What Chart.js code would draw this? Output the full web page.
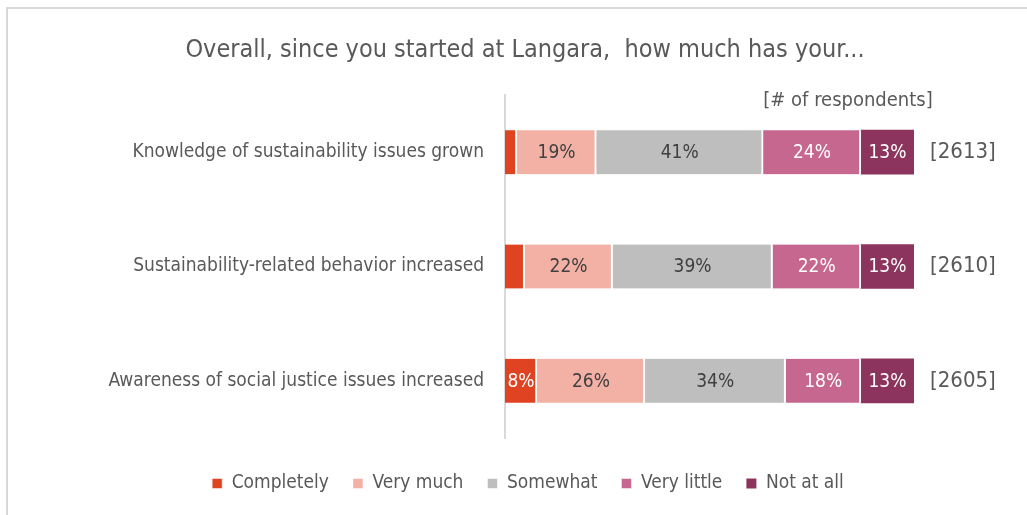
<!DOCTYPE html>
<html>
<head>
<meta charset="utf-8">
<script src="https://cdn.jsdelivr.net/npm/chart.js@4"></script>
<style>
  html, body { margin: 0; padding: 0; background: #ffffff; }
  #wrap { width: 1027px; height: 515px; position: relative; }
</style>
</head>
<body>
<div id="wrap"><canvas id="my-bar-Chart"></canvas></div>
<script>
// data (percent of respondents)
const categories = [
  "Knowledge of sustainability issues grown",
  "Sustainability-related behavior increased",
  "Awareness of social justice issues increased",
];
const completely = [2.9, 4.8, 7.8];
const veryMuch = [19.4, 21.5, 26.4];
const somewhat = [40.8, 39.1, 34.4];
const veryLittle = [23.9, 21.6, 18.4];
const notAtAll = [13.0, 13.0, 13.0];
const respondents = ["[2613]", "[2610]", "[2605]"];
const seriesNames = ["Completely", "Very much", "Somewhat", "Very little", "Not at all"];
const seriesColors = ["#E04321", "#F3B1A6", "#BEBEBE", "#C6678F", "#8C345E"];
const labelColors = ["#ffffff", "#404040", "#404040", "#ffffff", "#ffffff"];

const FONT = '"Liberation Sans Narrow", "DejaVu Sans Condensed", "Roboto Condensed", sans-serif';
const GREY = "#595959";

// frame, title and the little header above the counts
const decorPlugin = {
  id: "decor",
  beforeDraw(chart) {
    const ctx = chart.ctx;
    ctx.save();
    ctx.strokeStyle = "#d9d9d9";
    ctx.lineWidth = 2;
    ctx.strokeRect(7, 8, 1100, 600);
    ctx.fillStyle = GREY;
    ctx.textBaseline = "middle";
    ctx.textAlign = "center";
    ctx.font = "25px " + FONT;
    ctx.fillText("Overall, since you started at Langara,  how much has your...", 525, 50);
    ctx.font = "20px " + FONT;
    ctx.fillText("[# of respondents]", 848, 101);
    ctx.restore();
  },
  afterDatasetsDraw(chart) {
    const ctx = chart.ctx;
    ctx.save();
    ctx.textBaseline = "middle";
    ctx.textAlign = "center";
    ctx.font = "19px " + FONT;
    chart.data.datasets.forEach((ds, i) => {
      const meta = chart.getDatasetMeta(i);
      meta.data.forEach((bar, j) => {
        const v = ds.data[j];
        const w = Math.abs(bar.x - bar.base);
        if (w < 25) return;
        ctx.fillStyle = labelColors[i];
        ctx.fillText(Math.round(v) + "%", (bar.x + bar.base) / 2, bar.y + 1);
      });
    });
    ctx.restore();
  },
};

const seriesData = [completely, veryMuch, somewhat, veryLittle, notAtAll];

let ctx = document.querySelector("#my-bar-Chart");
let myBarChart = new Chart(ctx, {
  type: "bar",
  data: {
    labels: categories,
    datasets: seriesNames.map((name, i) => ({
      label: name,
      data: seriesData[i],
      backgroundColor: seriesColors[i],
      borderColor: "#ffffff",
      borderWidth: { left: 0, top: 0, bottom: 0, right: i < 4 ? 2 : 0 },
      borderSkipped: false,
      barThickness: 44,
    })),
  },
  options: {
    indexAxis: "y",
    responsive: true,
    maintainAspectRatio: false,
    animation: false,
    layout: {
      padding: { top: 95, right: 0, left: 29, bottom: 12 },
    },
    scales: {
      // value axis kept invisible, it only holds a gap above the legend
      x: {
        display: true,
        stacked: true,
        min: 0,
        max: 100,
        grid: { display: false },
        border: { display: false },
        ticks: { display: false },
        afterFit(scale) {
          scale.height = 12;
        },
      },
      y: {
        stacked: true,
        grid: { display: false },
        border: { display: true, color: "#d9d9d9", width: 2 },
        ticks: {
          color: GREY,
          padding: 13,
          font: { family: FONT, size: 19 },
        },
        afterFit(scale) {
          scale.width = 476;
        },
      },
      // respondent counts, one per bar, on the right
      y2: {
        type: "category",
        labels: respondents,
        position: "right",
        offset: true,
        grid: { display: false },
        border: { display: false },
        ticks: {
          color: GREY,
          padding: 8,
          font: { family: FONT, size: 22 },
        },
        afterFit(scale) {
          scale.width = 113;
        },
      },
    },
    plugins: {
      legend: {
        display: true,
        position: "bottom",
        labels: {
          color: GREY,
          boxWidth: 10,
          boxHeight: 10,
          padding: 24,
          font: { family: FONT, size: 19 },
        },
      },
      tooltip: { enabled: false },
    },
  },
  plugins: [decorPlugin],
});
</script>
</body>
</html>
